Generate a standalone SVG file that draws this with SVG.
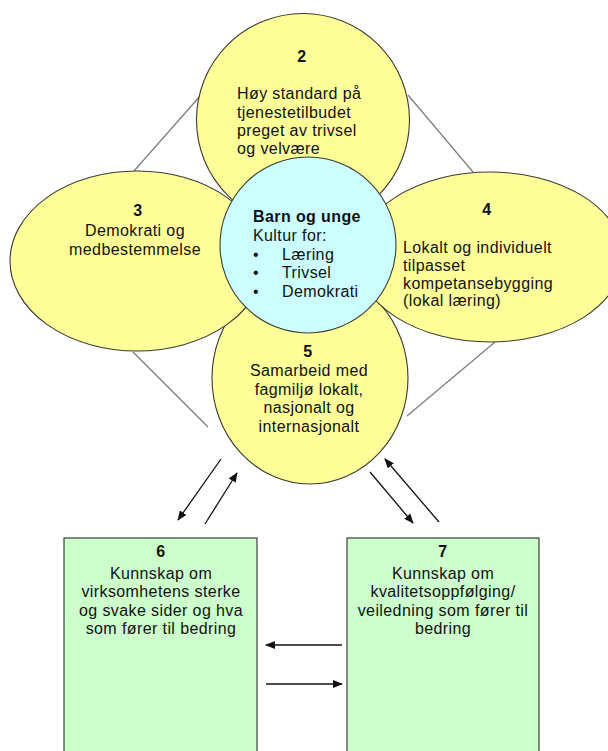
<svg xmlns="http://www.w3.org/2000/svg" width="608" height="751" viewBox="0 0 608 751">
<defs>
<marker id="ah" markerUnits="userSpaceOnUse" markerWidth="10" markerHeight="8" refX="9" refY="4" orient="auto">
<path d="M0,0 L10,4 L0,8 Z" fill="#111"/>
</marker>
<style>
.y{fill:#FFFF99;stroke:#3a3a30;stroke-width:1.1}
.b{fill:#CCFFFF;stroke:#3a3a30;stroke-width:1.1}
.g{fill:#CCFFCC;stroke:#2a2a2a;stroke-width:1.1}
.ln{stroke:#7a7a7a;stroke-width:1.2;fill:none}
.ar{stroke:#111;stroke-width:1.3;fill:none;marker-end:url(#ah)}
text{font-family:"Liberation Sans",Arial,sans-serif;font-size:16px;fill:#111;letter-spacing:0.4px}
.c{text-anchor:middle}
.n{font-weight:bold}
</style>
</defs>
<rect width="608" height="751" fill="#fff"/>
<g id="connectors">
<line class="ln" x1="134" y1="171" x2="201" y2="95"/>
<line class="ln" x1="408" y1="95" x2="473" y2="172"/>
<line class="ln" x1="133" y1="352" x2="208" y2="427"/>
<line class="ln" x1="495" y1="342" x2="407" y2="416"/>
<line class="ar" x1="221" y1="459" x2="178" y2="520"/>
<line class="ar" x1="205" y1="524" x2="237" y2="473"/>
<line class="ar" x1="370" y1="472" x2="413" y2="523"/>
<line class="ar" x1="439" y1="522" x2="385" y2="459"/>
<line class="ar" x1="342" y1="645" x2="266" y2="645"/>
<line class="ar" x1="266" y1="684" x2="342" y2="684"/>
</g>
<g id="node2">
<circle class="y" cx="303" cy="120" r="106.5"/>
<text class="c n" x="302" y="62">2</text>
<text x="237" y="99">Høy standard på</text>
<text x="237" y="117.5">tjenestetilbudet</text>
<text x="237" y="136">preget av trivsel</text>
<text x="237" y="154">og velvære</text>
</g>
<g id="node5">
<ellipse class="y" cx="310" cy="378" rx="98" ry="106"/>
<text class="c n" x="308" y="357">5</text>
<text class="c" x="309" y="376">Samarbeid med</text>
<text class="c" x="309" y="395">fagmiljø lokalt,</text>
<text class="c" x="309" y="413">nasjonalt og</text>
<text class="c" x="309" y="432">internasjonalt</text>
</g>
<g id="node3">
<ellipse class="y" cx="137" cy="261" rx="127" ry="90"/>
<text class="c n" x="138" y="216">3</text>
<text class="c" x="135" y="236">Demokrati og</text>
<text class="c" x="135" y="255">medbestemmelse</text>
</g>
<g id="node4">
<ellipse class="y" cx="490" cy="257" rx="133" ry="85"/>
<text class="c n" x="487" y="215">4</text>
<text x="403" y="253">Lokalt og individuelt</text>
<text x="403" y="271">tilpasset</text>
<text x="403" y="289">kompetansebygging</text>
<text x="403" y="306">(lokal læring)</text>
</g>
<g id="node1">
<circle class="b" cx="308" cy="245" r="88"/>
<text class="n" x="253" y="222">Barn og unge</text>
<text x="253" y="241">Kultur for:</text>
<text x="253" y="260">•</text>
<text x="282" y="260">Læring</text>
<text x="253" y="278">•</text>
<text x="282" y="278">Trivsel</text>
<text x="253" y="297">•</text>
<text x="282" y="297">Demokrati</text>
</g>
<g id="node6">
<rect class="g" x="64" y="538" width="193" height="225"/>
<text class="c n" x="161" y="557">6</text>
<text class="c" x="161" y="579">Kunnskap om</text>
<text class="c" x="161" y="597">virksomhetens sterke</text>
<text class="c" x="161" y="616">og svake sider og hva</text>
<text class="c" x="161" y="634">som fører til bedring</text>
</g>
<g id="node7">
<rect class="g" x="347" y="538" width="192" height="225"/>
<text class="c n" x="443" y="557">7</text>
<text class="c" x="443" y="579">Kunnskap om</text>
<text class="c" x="443" y="597">kvalitetsoppfølging/</text>
<text class="c" x="443" y="616">veiledning som fører til</text>
<text class="c" x="443" y="634">bedring</text>
</g>
</svg>
